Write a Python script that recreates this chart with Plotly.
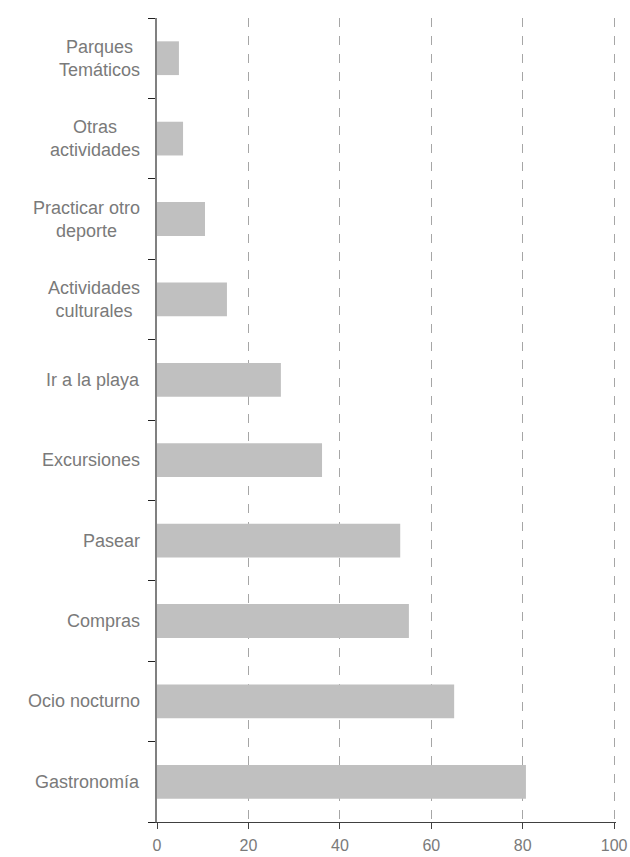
import plotly.graph_objects as go

# Actividades realizadas (%)
actividades = ["Gastronomía", "Ocio nocturno", "Compras", "Pasear", "Excursiones",
               "Ir a la playa", "Actividades<br>culturales", "Practicar otro<br>deporte",
               "Otras<br>actividades", "Parques<br>Temáticos"]
porcentajes = [80.7, 65.0, 55.1, 53.2, 36.1, 27.1, 15.3, 10.5, 5.7, 4.8]
ticks_x = [0, 20, 40, 60, 80, 100]

gris_texto = "#7a7a7a"

fig = go.Figure(go.Bar(
    x=porcentajes, y=actividades, orientation="h",
    marker=dict(color="#c0c0c0", line=dict(width=0)),
    width=0.42,
))

# etiquetas del eje como anotaciones para centrar las líneas
for nombre in actividades:
    fig.add_annotation(
        x=0, xref="paper", y=nombre, yref="y", text=nombre,
        xanchor="right", align="center", xshift=-15, showarrow=False,
        font=dict(family="Liberation Sans, Arial", size=18, color=gris_texto),
    )

fig.update_layout(
    width=630, height=857,
    margin=dict(l=157, r=14, t=18, b=35),
    paper_bgcolor="white", plot_bgcolor="white",
    showlegend=False,
    font=dict(family="Liberation Sans, Arial", size=17, color=gris_texto),
    bargap=0.58,
)
# rango algo mayor que 100 para que se vea la rejilla de 100
fig.update_xaxes(
    range=[0, 100.4], tickvals=ticks_x,
    showgrid=True, gridcolor="#a6a6a6", griddash="dash", gridwidth=1,
    showline=True, linecolor="#404040", linewidth=1,
    ticks="outside", ticklen=6, tickcolor="#404040",
    ticklabelstandoff=3, tickfont=dict(size=16),
    zeroline=False, fixedrange=True, automargin=False,
)
fig.update_yaxes(
    categoryorder="array", categoryarray=actividades,
    showticklabels=False, tickson="boundaries",
    ticks="outside", ticklen=7, tickcolor="#202020",
    showline=True, linecolor="#808080", linewidth=2,
    showgrid=False, fixedrange=True, automargin=False,
)

# quitar el margen por defecto del <body> para que la figura ocupe la ventana
fig.write_html("out.html", config={"displayModeBar": False},
               post_script="document.body.style.margin='0';")
